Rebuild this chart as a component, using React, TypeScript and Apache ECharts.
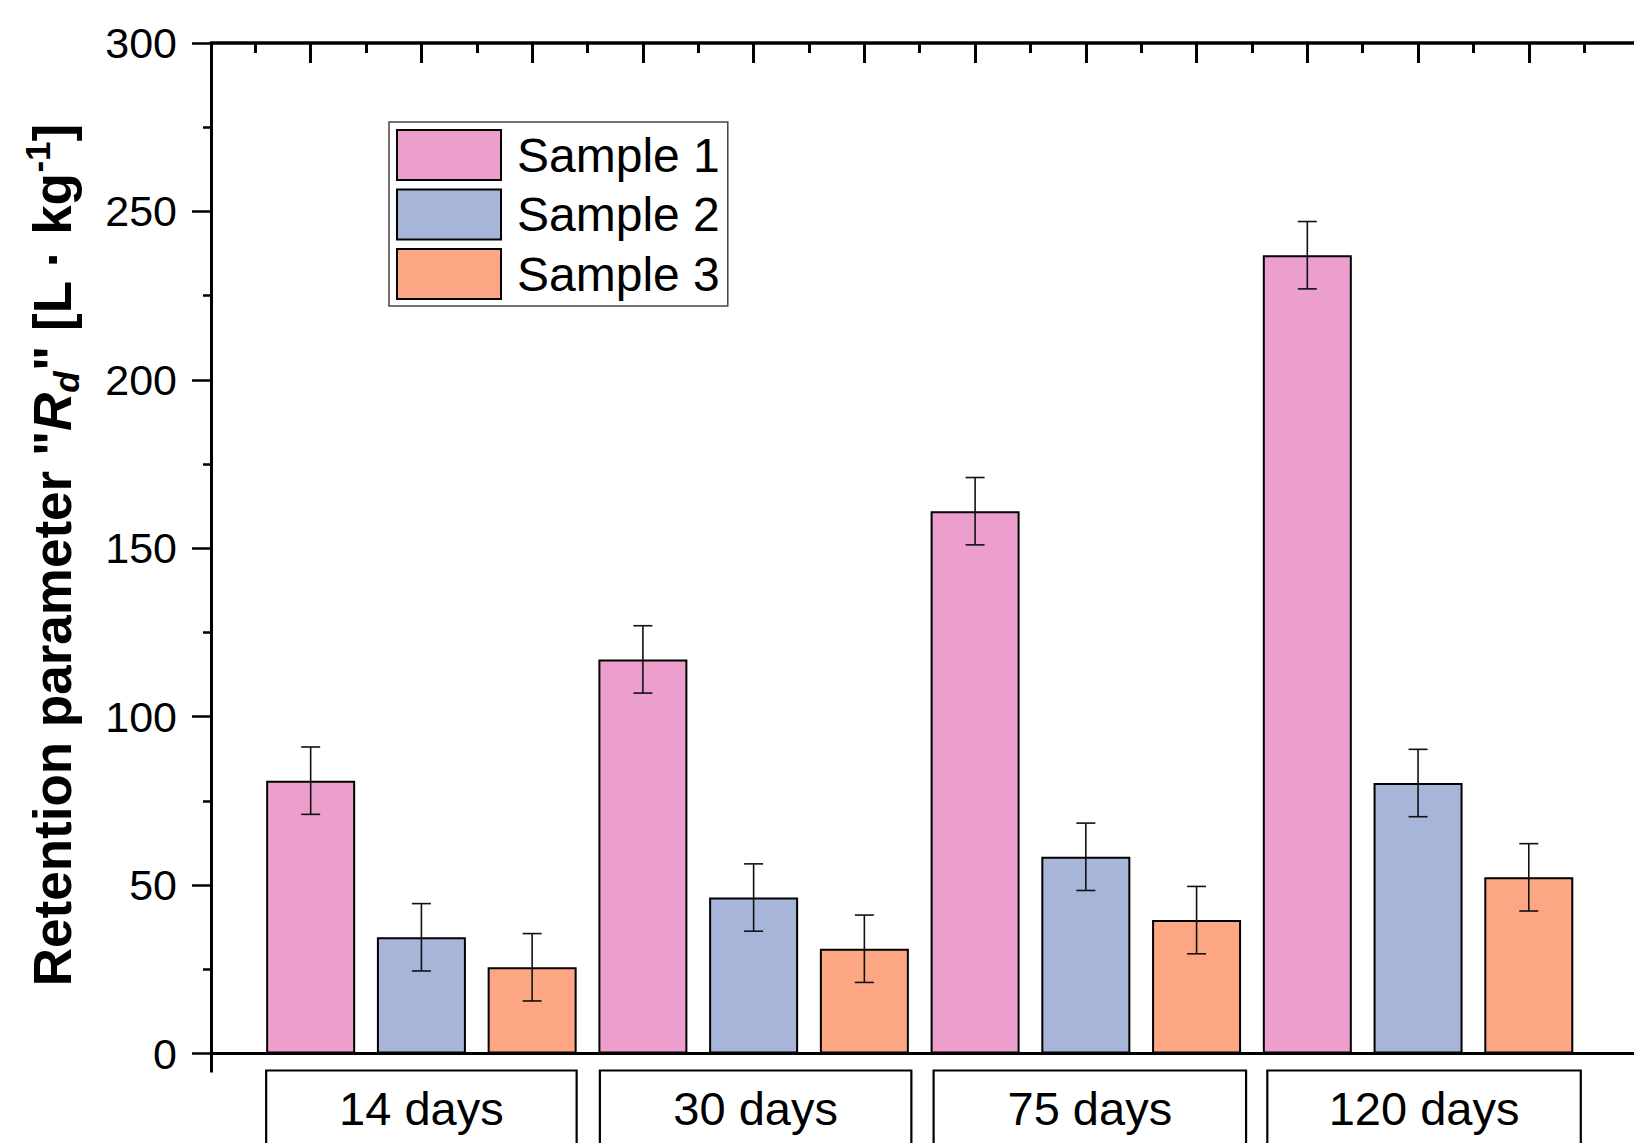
import React, { useEffect, useRef } from 'react';
import * as echarts from 'echarts';

const categories = ['14 days', '30 days', '75 days', '120 days'];
const seriesNames = ['Sample 1', 'Sample 2', 'Sample 3'];
const sample1 = [81, 117, 161, 237];
const sample2 = [34.5, 46.3, 58.4, 80.3];
const sample3 = [25.6, 31.1, 39.6, 52.3];
const err1 = [10, 10, 10, 10];
const err2 = [10, 10, 10, 10];
const err3 = [10, 10, 10, 10];
const yMin = 0;
const yMax = 300;
const yStep = 50;

const colors = ['#EC9ECC', '#A7B5D8', '#FCA684'];
const FONT = '"Liberation Sans", Arial, sans-serif';

const X_MIN = 0.1;
const X_MAX = 12.95;
const BAR_W = 89;

const values = [sample1, sample2, sample3];
const errs = [err1, err2, err3];
const xPos = (g: number, s: number) => g * 3 + s + 1;

export default function App() {
  const ref = useRef<HTMLDivElement>(null);
  useEffect(() => {
    if (!ref.current) return;
    const chart = echarts.init(ref.current, null, { renderer: 'svg' });

    const majorTop: number[] = [];
    const minorTop: number[] = [];
    for (let i = 1; i <= 12; i++) majorTop.push(i);
    for (let i = 0; i <= 12; i++) minorTop.push(i + 0.5);

    const barSeries = seriesNames.map((name, s) => ({
      name,
      type: 'bar',
      xAxisIndex: 0,
      yAxisIndex: 0,
      barWidth: BAR_W,
      barGap: '-100%',
      itemStyle: { color: colors[s], borderColor: '#000', borderWidth: 2 },
      data: categories.map((_, g) => [xPos(g, s), values[s][g]]),
      z: 2,
    }));

    const errData: number[][] = [];
    categories.forEach((_, g) => {
      for (let s = 0; s < 3; s++) {
        errData.push([xPos(g, s), values[s][g] - errs[s][g], values[s][g] + errs[s][g]]);
      }
    });

    const errSeries = {
      type: 'custom',
      xAxisIndex: 0,
      yAxisIndex: 0,
      z: 5,
      encode: { x: 0, y: [1, 2] },
      data: errData,
      renderItem: (params: any, api: any) => {
        const x = api.value(0);
        const lo = api.value(1);
        const hi = api.value(2);
        const pt = api.coord([x, hi]);
        const pb = api.coord([x, lo]);
        const hw = 9.5;
        const st = { stroke: '#111', lineWidth: 1.6 };
        return {
          type: 'group',
          children: [
            { type: 'line', shape: { x1: pt[0], y1: pt[1], x2: pb[0], y2: pb[1] }, style: st },
            { type: 'line', shape: { x1: pt[0] - hw, y1: pt[1], x2: pt[0] + hw, y2: pt[1] }, style: st },
            { type: 'line', shape: { x1: pb[0] - hw, y1: pb[1], x2: pb[0] + hw, y2: pb[1] }, style: st },
          ],
        };
      },
    };

    chart.setOption({
      animation: false,
      backgroundColor: '#fff',
      grid: { left: 211, top: 43, width: (X_MAX - X_MIN) * 110.75, height: 1010.5, containLabel: false },
      legend: {
        data: seriesNames,
        orient: 'vertical',
        left: 389,
        top: 122,
        itemWidth: 104,
        itemHeight: 50,
        itemGap: 7.5,
        padding: [7, 8, 6, 7],
        borderColor: '#444',
        borderWidth: 1.5,
        icon: 'rect',
        itemStyle: { borderColor: '#000', borderWidth: 2 },
        textStyle: { fontSize: 48, fontFamily: FONT, color: '#000', lineHeight: 50, padding: [0, 0, 0, 11] },
      },
      xAxis: [
        {
          type: 'value',
          position: 'bottom',
          min: X_MIN,
          max: X_MAX,
          axisLine: { show: true, lineStyle: { color: '#000', width: 3 } },
          axisTick: { show: true, customValues: [X_MIN], length: 19, inside: false, lineStyle: { color: '#000', width: 3 } },
          axisLabel: { show: false },
          splitLine: { show: false },
        },
        {
          type: 'value',
          position: 'top',
          min: X_MIN,
          max: X_MAX,
          axisLine: { show: true, lineStyle: { color: '#000', width: 3.5 } },
          axisTick: { show: true, customValues: majorTop, length: 20, inside: true, lineStyle: { color: '#000', width: 3 } },
          axisLabel: { show: false },
          splitLine: { show: false },
        },
        {
          type: 'value',
          position: 'top',
          min: X_MIN,
          max: X_MAX,
          axisLine: { show: false },
          axisTick: { show: true, customValues: minorTop, length: 10, inside: true, lineStyle: { color: '#000', width: 3 } },
          axisLabel: { show: false },
          splitLine: { show: false },
        },
      ],
      yAxis: {
        type: 'value',
        min: yMin,
        max: yMax,
        interval: yStep,
        axisLine: { show: true, lineStyle: { color: '#000', width: 3 } },
        axisTick: { show: true, length: 19, inside: false, lineStyle: { color: '#000', width: 2.5 } },
        minorTick: { show: true, splitNumber: 2, length: 8, lineStyle: { color: '#000', width: 2.5 } },
        axisLabel: { fontSize: 43, fontFamily: FONT, color: '#000', margin: 34 },
        splitLine: { show: false },
      },
      series: [...barSeries, errSeries],
    });

    const y0 = chart.convertToPixel({ yAxisIndex: 0 }, 0) as number;
    const half = 44.5;
    const graphics: any[] = [];
    categories.forEach((c, g) => {
      const xl = (chart.convertToPixel({ xAxisIndex: 0 }, xPos(g, 0)) as number) - half + g * 1.5;
      const xr = (chart.convertToPixel({ xAxisIndex: 0 }, xPos(g, 2)) as number) + half + g * 2.5;
      graphics.push({
        type: 'rect',
        id: 'box' + g,
        shape: { x: xl, y: y0 + 17, width: xr - xl, height: 120 },
        style: { fill: '#fff', stroke: '#000', lineWidth: 2.2 },
        z: 10,
      });
      graphics.push({
        type: 'text',
        id: 'lab' + g,
        x: (xl + xr) / 2,
        y: y0 + 55,
        style: { text: c, fontSize: 47, fontFamily: FONT, fill: '#000', align: 'center', verticalAlign: 'middle' },
        z: 11,
      });
    });
    const base = { fontSize: 53, fontWeight: 'bold', fontFamily: FONT, fill: '#000', lineHeight: 64 };
    graphics.push({
      type: 'text',
      id: 'yname',
      x: 52,
      y: 555,
      rotation: Math.PI / 2,
      style: {
        text: '{a|Retention parameter "}{ri|R}{sub|d}{a|" [L · kg}{sup|-1}{a|]}',
        align: 'center',
        verticalAlign: 'middle',
        fontSize: 53,
        fontWeight: 'bold',
        fontFamily: FONT,
        fill: '#000',
        rich: {
          a: { ...base },
          ri: { ...base, fontStyle: 'italic' },
          sub: { ...base, fontStyle: 'italic', fontSize: 35, lineHeight: 40, verticalAlign: 'bottom' },
          sup: { ...base, fontSize: 35, lineHeight: 40, verticalAlign: 'top' },
        },
      },
      z: 10,
    });
    chart.setOption({ graphic: graphics });

    return () => chart.dispose();
  }, []);
  return <div ref={ref} style={{ position: 'absolute', left: 0, top: 0, width: 1634, height: 1143 }} />;
}
